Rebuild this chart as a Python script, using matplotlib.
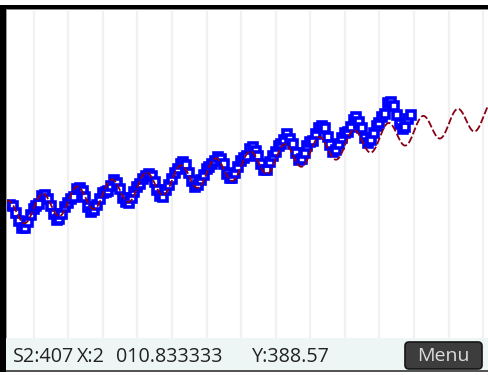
import numpy as np
import matplotlib as mpl
mpl.use('Agg')
import matplotlib.pyplot as plt
from matplotlib.patches import Rectangle, FancyBboxPatch

# monthly CO2 (ppm), May 2005 .. Dec 2016
start_year = 2005
start_month = 5
co2 = [
   382.45, 382.14, 380.60, 378.64, 376.73, 376.84, 378.29, 380.06,
   381.40, 382.20, 382.66, 384.69, 384.94, 384.01, 382.14, 380.31, 378.81, 379.03, 380.17, 381.85,
   382.94, 383.86, 384.49, 386.37, 386.54, 385.98, 384.36, 381.85, 380.74, 381.15, 382.38, 383.94,
   385.44, 385.73, 385.97, 387.16, 388.50, 387.88, 386.42, 384.15, 383.09, 382.99, 384.13, 385.56,
   386.94, 387.48, 388.82, 389.55, 390.14, 389.48, 388.03, 386.11, 384.74, 384.43, 386.02, 387.42,
   388.71, 390.20, 391.17, 392.46, 393.00, 392.15, 390.20, 388.35, 386.85, 387.24, 388.57, 389.79,
   391.33, 391.86, 392.60, 393.25, 394.19, 393.74, 392.51, 390.13, 389.08, 389.00, 390.28, 391.86,
   393.12, 393.86, 394.40, 396.18, 396.74, 395.71, 394.36, 392.39, 391.11, 391.05, 392.98, 394.34,
   395.55, 396.80, 397.43, 398.41, 399.78, 398.60, 397.32, 395.20, 393.45, 393.70, 395.16, 396.84,
   397.85, 398.01, 399.77, 401.38, 401.78, 401.25, 399.10, 397.03, 395.38, 396.03, 397.28, 398.91,
   399.98, 400.28, 401.54, 403.28, 403.96, 402.80, 401.31, 398.93, 397.63, 398.29, 400.16, 401.85,
   402.52, 404.04, 404.83, 407.42, 407.70, 406.81, 404.39, 402.25, 401.03, 401.57, 403.53, 404.42,
]

# fitted model: linear trend + yearly cosine
fit_mid = 392.85      # ppm at fit_t0
fit_t0 = 2012.5
fit_slope = 1.73      # ppm / year
fit_amp = 3.2         # ppm
fit_phase = 0.255     # fraction of year at seasonal max

grid_years = list(range(2006, 2020))
x_view = (2005.205, 2019.136)
y_view = (349.60, 430.48)

status_s = "S2:407"
status_x = "X:2"
status_x2 = "010.833333"
status_y = "Y:388.57"

W, H = 488, 375

t = start_year + (start_month - 1 + np.arange(len(co2))) / 12.0
co2 = np.array(co2)

def model(tt):
   return fit_mid + fit_slope*(tt - fit_t0) + fit_amp*np.cos(2*np.pi*(tt - fit_phase))

fig = plt.figure(figsize=(W/100, H/100), dpi=100)
fig.patch.set_facecolor('white')

#plot area in pixel units, converted to figure fractions
def px_axes(x0, y0, x1, y1):
   return fig.add_axes([x0/W, 1 - y1/H, (x1 - x0)/W, (y1 - y0)/H])

ax = px_axes(6, 9, 488, 339)
ax.set_xlim(*x_view)
ax.set_ylim(*y_view)
for s in ax.spines.values():
   s.set_visible(False)
ax.set_xticks([])
ax.set_yticks([])
for yr in grid_years:
   ax.axvline(yr, ymin=0, ymax=1 - 3/330, color='#f1f1f1', lw=1.6, zorder=0)

ax.plot(t, co2, ls='none', marker='s', ms=5.3, mew=2.6,
        mec='#0000ff', mfc='white', zorder=2)

# fitted curve, fine sampling, short dashes
tc = np.arange(x_view[0], x_view[1], 0.5/34.6)
ax.plot(tc, model(tc), color='#870015', lw=1.3, dashes=(4, 1.4),
        solid_capstyle='butt', zorder=3)

# frame, status bar and menu key
ov = fig.add_axes([0, 0, 1, 1], zorder=5)
ov.set_xlim(0, W)
ov.set_ylim(H, 0)
ov.axis('off')
ov.patch.set_alpha(0)
ov.add_patch(Rectangle((0, 5), W, 4, color='black', lw=0))
ov.add_patch(Rectangle((6, 9), W - 6, 1, color='#8a8a8a', lw=0))
ov.add_patch(Rectangle((0, 5), 6, 367, color='black', lw=0))
ov.add_patch(Rectangle((6, 10), 1, 328, color='#9a9a9a', lw=0))
ov.add_patch(Rectangle((6, 338), W - 6, 32, color='#eef6f5', lw=0))
ov.add_patch(Rectangle((6, 370), W - 6, 1.5, color='#555555', lw=0))

txt = dict(fontsize=14.2, family='Open Sans', color='#222222', va='baseline')
ov.text(13, 362, status_s, **txt)
ov.text(77, 362, status_x, **txt)
ov.text(116, 362, status_x2, **txt)
ov.text(252, 362, status_y, **txt)

ov.add_patch(FancyBboxPatch((405, 342), 77, 27, boxstyle='round,pad=0,rounding_size=4',
                            fc='#3d3d3d', ec='#151515', lw=1.2))
ov.text(443.5, 356, "Menu", fontsize=14, family='Open Sans', color='#dcdcdc',
        ha='center', va='center')

fig.savefig('out.png', dpi=100)
